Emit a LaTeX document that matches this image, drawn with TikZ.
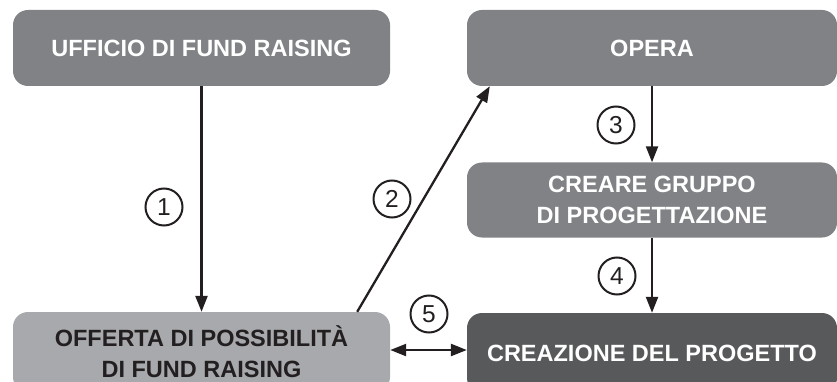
\documentclass[tikz,border=0pt]{standalone}
\usepackage{fontspec}
\setmainfont{Liberation Sans}
\usetikzlibrary{arrows.meta}
\definecolor{boxmid}{HTML}{808285}
\definecolor{boxlight}{HTML}{A7A9AC}
\definecolor{boxdark}{HTML}{58595B}
\definecolor{textdark}{HTML}{231F20}
\tikzset{
  >={Triangle[length=16pt,width=12pt]},
  box/.style={rounded corners=15pt, fill=boxmid, text=white, align=center, inner sep=0pt,
    font=\bfseries\fontsize{23.5}{31}\selectfont},
  num/.style={circle, draw=textdark, line width=2pt, minimum size=37pt, inner sep=0pt,
    text=textdark, font=\fontsize{24.5}{24.5}\selectfont},
  link/.style={draw=textdark, line width=2.3pt}
}
\begin{document}
\begin{tikzpicture}[x=1pt,y=-1pt]
				\def\wl{377};
				\def\wr{370};
				\def\hb{76};
				\clip (0,0) rectangle (837,382);
				\node[box, minimum width=\wl, minimum height=\hb] (ufficio) at (201.5,48) {UFFICIO DI FUND RAISING};
				\node[box, minimum width=\wr, minimum height=\hb] (opera) at (652,48) {OPERA};
				\node[box, minimum width=\wr, minimum height=75] (gruppo) at (652,200) {CREARE GRUPPO\\DI PROGETTAZIONE};
				\node[box, fill=boxlight, text=textdark, minimum width=\wl, minimum height=80] (offerta) at (201.5,352) {OFFERTA DI POSSIBILITÀ\\DI FUND RAISING};
				\node[box, fill=boxdark, minimum width=\wr, minimum height=80] (progetto) at (652,353) {CREAZIONE DEL PROGETTO};
				\draw[link,->] (ufficio) -- (offerta);
				\draw[link,->] ([xshift=-33pt]offerta.north east) -- ([xshift=23pt]opera.south west);
				\draw[link,->] (opera) -- (gruppo);
				\draw[link,->] (gruppo) -- (progetto);
				\draw[link,<->] (offerta.east |- 0,350) -- (progetto.west |- 0,350);
				\node[num] (n1) at (164,207) {1};
				\node[num] (n2) at (392,199) {2};
				\node[num] (n3) at (616,125) {3};
				\node[num] (n4) at (617,276) {4};
				\node[num] (n5) at (429,314) {5};
			\end{tikzpicture}
\end{document}
